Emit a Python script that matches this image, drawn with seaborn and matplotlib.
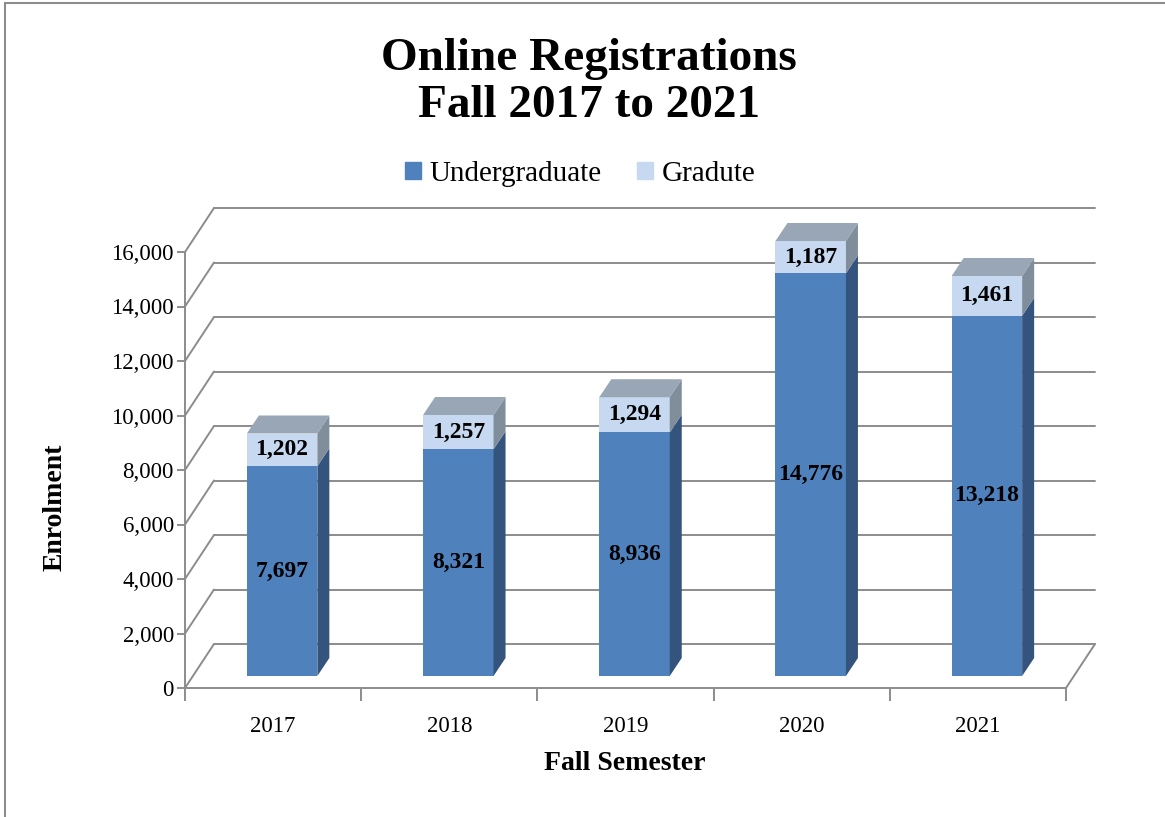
import matplotlib
matplotlib.use("Agg")
import matplotlib.pyplot as plt
import pandas as pd
import seaborn as sns
from matplotlib.lines import Line2D
from matplotlib.patches import Patch, Polygon

# ---------------------------------------------------------------------------
# Data
# ---------------------------------------------------------------------------
YEARS = ["2017", "2018", "2019", "2020", "2021"]
UNDERGRAD = [7697, 8321, 8936, 14776, 13218]
GRADUATE = [1202, 1257, 1294, 1187, 1461]
Y_TICKS = [0, 2000, 4000, 6000, 8000, 10000, 12000, 14000, 16000]

# ---------------------------------------------------------------------------
# Styles
# ---------------------------------------------------------------------------
C_UG = "#4F81BD"
C_UG_SIDE = "#34547E"
C_GR = "#C6D9F1"
C_GR_SIDE = "#808D9A"
C_TOP = "#98A6B6"
C_GRID = "#8C8C8C"

W, H = 1165, 817
PX_X = 881 / 5          # pixels per category
PX_Y = 436 / 16000      # pixels per enrolment unit


def px(dx_px, dy_px):
    """Pixel offset -> data offset (up is positive)."""
    return dx_px / PX_X, dy_px / PX_Y


WALL = px(29, 44)
BAR_SHIFT = px(9, 12)
BAR_DEPTH = px(12, 18)

sns.set_theme(style="white")
plt.rcParams["font.family"] = ["Liberation Serif", "DejaVu Serif"]
plt.rcParams["text.color"] = "black"
plt.rcParams["xtick.color"] = "black"
plt.rcParams["ytick.color"] = "black"

fig = plt.figure(figsize=(W / 100, H / 100), dpi=100)
ax = fig.add_axes([185 / W, (H - 688) / H, 881 / W, 436 / H])

df = pd.DataFrame({"year": YEARS, "ug": UNDERGRAD, "gr": GRADUATE})
df["total"] = df["ug"] + df["gr"]

# front faces: total (graduate colour) behind, undergraduate over it
sns.barplot(data=df, x="year", y="total", color=C_GR, saturation=1,
            width=0.4, linewidth=0, ax=ax, zorder=3)
sns.barplot(data=df, x="year", y="ug", color=C_UG, saturation=1,
            width=0.4, linewidth=0, ax=ax, zorder=3)

# back wall grid and side wall diagonals
x0, x1 = -0.5, 4.5
for v in Y_TICKS:
    ax.plot([x0, x0 + WALL[0]], [v, v + WALL[1]], color=C_GRID, lw=1.4,
            clip_on=False, zorder=1)
    ax.plot([x0 + WALL[0], x1 + WALL[0]], [v + WALL[1]] * 2, color=C_GRID,
            lw=1.4, clip_on=False, zorder=1)
ax.plot([x1, x1 + WALL[0]], [0, WALL[1]], color=C_GRID, lw=1.4,
        clip_on=False, zorder=1)

# 3D bars: shift front faces into depth and add sides / tops
for pt, pu, ug, gr in zip(ax.containers[0], ax.containers[1], UNDERGRAD, GRADUATE):
    for p in (pt, pu):
        p.set_x(p.get_x() + BAR_SHIFT[0])
        p.set_y(p.get_y() + BAR_SHIFT[1])
        p.set_clip_on(False)
    bx0 = pu.get_x()
    bx1 = bx0 + pu.get_width()
    base = pu.get_y()
    yu = base + pu.get_height()
    yt = base + pt.get_height()
    ddx, ddy = BAR_DEPTH
    ax.add_patch(Polygon([(bx1, base), (bx1 + ddx, base + ddy),
                          (bx1 + ddx, yu + ddy), (bx1, yu)],
                         closed=True, color=C_UG_SIDE, lw=0, zorder=3, clip_on=False))
    ax.add_patch(Polygon([(bx1, yu), (bx1 + ddx, yu + ddy),
                          (bx1 + ddx, yt + ddy), (bx1, yt)],
                         closed=True, color=C_GR_SIDE, lw=0, zorder=3, clip_on=False))
    ax.add_patch(Polygon([(bx0, yt), (bx1, yt), (bx1 + ddx, yt + ddy),
                          (bx0 + ddx, yt + ddy)],
                         closed=True, color=C_TOP, lw=0, zorder=3, clip_on=False))
    cx = (bx0 + bx1) / 2
    ax.text(cx, base + ug / 2, f"{ug:,}", ha="center", va="center",
            fontsize=17, fontweight="bold", color="black", zorder=5)
    ax.text(cx, yu + gr / 2, f"{gr:,}", ha="center", va="center",
            fontsize=17, fontweight="bold", color="black", zorder=5)

# axes
ax.set_xlim(x0, x1)
ax.set_ylim(0, 16000)
ax.set_facecolor("none")
for side in ("top", "right"):
    ax.spines[side].set_visible(False)
for side in ("left", "bottom"):
    ax.spines[side].set_color(C_GRID)
    ax.spines[side].set_linewidth(1.4)
    ax.spines[side].set_zorder(2)

ax.set_yticks(Y_TICKS)
ax.set_yticklabels([f"{v:,}" for v in Y_TICKS])
ax.set_xticks(range(len(YEARS)))
ax.set_xticklabels(YEARS)
ax.set_xticks([i - 0.5 for i in range(len(YEARS) + 1)], minor=True)
ax.tick_params(axis="y", direction="out", length=6, width=1.4, color=C_GRID,
               labelsize=16.5, labelcolor="black", pad=2, left=True)
ax.tick_params(axis="x", which="major", length=0, labelsize=16.5,
               labelcolor="black", pad=20)
ax.tick_params(axis="x", which="minor", direction="out", length=9, width=1.4,
               color=C_GRID, bottom=True)
ax.set_xlabel("")
ax.set_ylabel("")

# texts
fig.text(589 / W, 1 - 70 / H, "Online Registrations", ha="center",
         va="baseline", fontsize=34, fontweight="bold", color="black")
fig.text(589 / W, 1 - 117 / H, "Fall 2017 to 2021", ha="center",
         va="baseline", fontsize=34, fontweight="bold", color="black")
fig.text(625 / W, 1 - 764 / H, "Fall Semester", ha="center", va="center",
         fontsize=20, fontweight="bold", color="black")
fig.text(55 / W, 1 - 507 / H, "Enrolment", ha="center", va="center",
         rotation=90, fontsize=20, fontweight="bold", color="black")

handles = [Patch(color=C_UG, label="Undergraduate"),
           Patch(color=C_GR, label="Gradute")]
leg = fig.legend(handles=handles, loc="center",
                 bbox_to_anchor=(580 / W, 1 - 174 / H), ncol=2, frameon=False,
                 fontsize=21, handlelength=0.55, handleheight=0.55,
                 handletextpad=0.3, columnspacing=1.2)
for t in leg.get_texts():
    t.set_color("black")

# outer chart frame (left and top edges visible)
fig.add_artist(Line2D([5 / W, 5 / W], [0, 1 - 3 / H], color=C_GRID, lw=1.5,
                      transform=fig.transFigure))
fig.add_artist(Line2D([5 / W, 1], [1 - 3 / H, 1 - 3 / H], color=C_GRID, lw=1.5,
                      transform=fig.transFigure))

fig.savefig("out.png", dpi=100)
